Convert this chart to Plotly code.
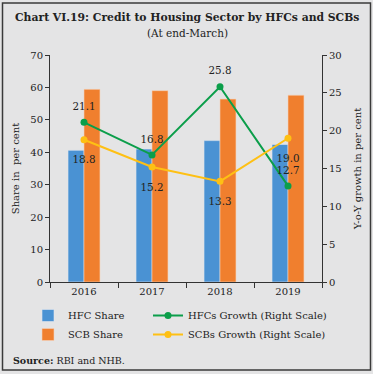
import plotly.graph_objects as go

years = ["2016", "2017", "2018", "2019"]
hfc_share = [40.6, 41.0, 43.6, 42.4]
scb_share = [59.4, 59.0, 56.4, 57.6]
hfc_growth = [21.1, 16.8, 25.8, 12.7]
scb_growth = [18.8, 15.2, 13.3, 19.0]

BLUE = "#4a92d3"
ORANGE = "#f07f2e"
GREEN = "#0b9e4a"
YELLOW = "#fec014"
BG = "#e4e4e5"
FONT = "DejaVu Serif"
TXT = "#222222"
CLEAR = "rgba(0,0,0,0)"

W, H = 373, 374
ML, MR, MT, MB = 50, 51, 55, 92
PW = W - ML - MR
PH = H - MT - MB

def px(x):
    return (x - ML) / PW

def py(y):
    return (H - MB - y) / PH

labfont = dict(family=FONT, size=10.3, color=TXT)

fig = go.Figure()
fig.add_trace(go.Bar(x=years, y=hfc_share, name="HFC Share", legend="legend",
                     marker=dict(color=BLUE, line=dict(color="#dfe6ee", width=0.6))))
fig.add_trace(go.Bar(x=years, y=scb_share, name="SCB Share", legend="legend",
                     marker=dict(color=ORANGE, line=dict(color="#f5d2b8", width=0.6))))
fig.add_trace(go.Scatter(x=years, y=hfc_growth, yaxis="y2", name="HFCs Growth (Right Scale)", legend="legend2",
                         mode="lines+markers", line=dict(color=GREEN, width=2),
                         marker=dict(size=7, color=GREEN)))
fig.add_trace(go.Scatter(x=years, y=scb_growth, yaxis="y2", name="SCBs Growth (Right Scale)", legend="legend2",
                         mode="lines+markers", line=dict(color=YELLOW, width=2),
                         marker=dict(size=7, color=YELLOW)))
# value labels
fig.add_trace(go.Scatter(x=years, y=hfc_growth, yaxis="y2", showlegend=False, hoverinfo="skip",
                         mode="markers+text", marker=dict(size=14, color=CLEAR),
                         text=[f"{v:.1f}" for v in hfc_growth], textposition="top center", textfont=labfont))
fig.add_trace(go.Scatter(x=years, y=scb_growth, yaxis="y2", showlegend=False, hoverinfo="skip",
                         mode="markers+text", marker=dict(size=24, color=CLEAR),
                         text=[f"{v:.1f}" for v in scb_growth], textposition="bottom center", textfont=labfont))

legfont = dict(family=FONT, size=10, color=TXT)
fig.update_layout(
    width=W, height=H,
    margin=dict(l=ML, r=MR, t=MT, b=MB, autoexpand=False),
    paper_bgcolor=BG,
    plot_bgcolor=BG,
    barmode="group", bargap=0.53, bargroupgap=0,
    font=dict(family=FONT, size=10, color=TXT),
    showlegend=True,
    legend=dict(orientation="v", x=px(28), y=py(301), xanchor="left", yanchor="top",
                font=legfont, bgcolor=CLEAR, traceorder="normal", itemwidth=30,
                tracegroupgap=0),
    legend2=dict(orientation="v", x=px(148), y=py(301), xanchor="left", yanchor="top",
                 font=legfont, bgcolor=CLEAR, traceorder="normal", itemwidth=30,
                 tracegroupgap=0),
    xaxis=dict(showline=True, linecolor="#333333", linewidth=1, ticks="outside", tickson="boundaries",
               ticklen=5, tickcolor="#333333", tickfont=dict(family=FONT, size=10, color=TXT)),
    yaxis=dict(range=[0, 70], dtick=10, showgrid=False, showline=True, linecolor="#333333", linewidth=1,
               ticks="outside", ticklen=4, tickcolor="#333333", zeroline=False,
               tickfont=dict(family=FONT, size=10, color=TXT),
               title=dict(text="Share in  per cent", font=dict(family=FONT, size=10, color=TXT), standoff=8)),
    yaxis2=dict(range=[0, 30], dtick=5, overlaying="y", side="right", showgrid=False, showline=True,
                linecolor="#333333", linewidth=1, ticks="outside", ticklen=4, tickcolor="#333333", zeroline=False,
                tickfont=dict(family=FONT, size=10, color=TXT),
                title=dict(text="Y-o-Y growth in per cent", font=dict(family=FONT, size=10, color=TXT), standoff=13)),
    shapes=[dict(type="rect", xref="paper", yref="paper", x0=px(2.5), x1=px(370.5), y0=py(370), y1=py(3),
                 fillcolor=CLEAR, line=dict(color="#3a3a3a", width=1.5), layer="above")],
    annotations=[
        dict(text="<b>Chart VI.19: Credit to Housing Sector by HFCs and SCBs</b>", xref="paper", yref="paper",
             x=px(187), y=py(17), xanchor="center", yanchor="middle", showarrow=False,
             font=dict(family=FONT, size=10.8, color=TXT)),
        dict(text="(At end-March)", xref="paper", yref="paper",
             x=px(187), y=py(33), xanchor="center", yanchor="middle", showarrow=False,
             font=dict(family=FONT, size=10.5, color=TXT)),
        dict(text="<b>Source:</b> RBI and NHB.", xref="paper", yref="paper",
             x=px(11), y=py(360), xanchor="left", yanchor="middle", showarrow=False,
             font=dict(family=FONT, size=9.5, color=TXT)),
    ],
)

fig.write_html("out.html", config={"displayModeBar": False},
               post_script="document.body.style.margin='0';document.body.style.padding='0';")
